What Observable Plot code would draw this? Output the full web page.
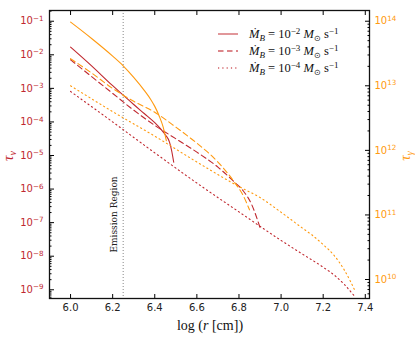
<!DOCTYPE html>
<html><head><meta charset="utf-8">
<script src="https://cdn.jsdelivr.net/npm/d3@7"></script>
<script src="https://cdn.jsdelivr.net/npm/@observablehq/plot@0.6"></script>
<style>
body{margin:0;background:white;}
#wrap{position:relative;width:415px;height:340px;}
#wrap svg{position:absolute;left:0;top:0;}
</style></head>
<body><div id="wrap"></div>
<script>
// ---- data (log10 r in cm) ----
const redSolidR = [6.0, 6.1, 6.2, 6.25, 6.3, 6.35, 6.4, 6.43, 6.45, 6.47, 6.48, 6.49];
const redSolidTau = [1.70e-2, 4.68e-3, 1.20e-3, 6.3e-4, 3.31e-4, 1.78e-4, 9.5e-5, 6.0e-5, 4.17e-5, 2.5e-5, 1.41e-5, 6.3e-6];
const redDashR = [6.0, 6.1, 6.2, 6.3, 6.4, 6.5, 6.6, 6.7, 6.78, 6.82, 6.86, 6.9];
const redDashTau = [7.1e-3, 2.24e-3, 7.1e-4, 2.24e-4, 7.9e-5, 3.16e-5, 1.26e-5, 4.5e-6, 1.58e-6, 8.9e-7, 3.5e-7, 7.1e-8];
const redDotR = [6.0, 6.2, 6.4, 6.6, 6.8, 7.0, 7.1, 7.2, 7.26, 7.3, 7.35];
const redDotTau = [8.1e-4, 1.0e-4, 1.2e-5, 1.51e-6, 2.09e-7, 2.95e-8, 1.17e-8, 4.7e-9, 2.5e-9, 1.45e-9, 6.3e-10];

const orSolidR = [6.0, 6.1, 6.2, 6.25, 6.3, 6.35, 6.38, 6.4, 6.42, 6.44, 6.455];
const orSolidTau = [9.7e13, 5.4e13, 2.88e13, 2.04e13, 1.35e13, 8.5e12, 6.2e12, 4.8e12, 3.47e12, 2.29e12, 1.41e12];
const orDashR = [6.0, 6.1, 6.2, 6.3, 6.4, 6.5, 6.6, 6.7, 6.78, 6.82, 6.85];
const orDashTau = [2.63e13, 1.58e13, 9.1e12, 5.75e12, 3.89e12, 2.29e12, 1.29e12, 6.6e11, 3.16e11, 2.0e11, 1.2e11];
const orDotR = [6.0, 6.2, 6.4, 6.6, 6.8, 6.9, 7.0, 7.1, 7.15, 7.2, 7.25, 7.3, 7.33, 7.35];
const orDotTau = [1.0e13, 3.98e12, 1.66e12, 6.6e11, 2.75e11, 1.86e11, 1.1e11, 6.3e10, 4.8e10, 3.47e10, 2.4e10, 1.41e10, 9.3e9, 6.8e9];

const emissionR = [6.25];
const xTicks = [6.0, 6.2, 6.4, 6.6, 6.8, 7.0, 7.2, 7.4];
const leftMajor = [-9, -8, -7, -6, -5, -4, -3, -2, -1];
const rightMajor = [10, 11, 12, 13, 14];
const legendLabels = ["−2", "−3", "−4"];

// ---- style ----
const RED = "#c0282f", ORANGE = "#ff9a10";
const W = 415, H = 340, mL = 49, mR = 46, mT = 10, mB = 42;
const xDomain = [5.9, 7.42];
const yLeft = [10 ** -9.26, 10 ** -0.68];
const yRight = [10 ** 9.706, 10 ** 14.166];

const minors = (exps) => exps.flatMap(k => [2,3,4,5,6,7,8,9].map(m => m * 10 ** k));
const pts = (R, T) => R.map((r, i) => ({r, t: T[i]}));
const fmtPow = d => "10^" + String(Math.round(Math.log10(d))).replace("-", "−");

const common = {width: W, height: H, marginLeft: mL, marginRight: mR, marginTop: mT, marginBottom: mB};
const DOT = "1.2,3.1", DASH = "5.5,3.5";

const plotA = Plot.plot({
  ...common,
  style: {background: "white", fontFamily: "DejaVu Sans", fontSize: "10px"},
  x: {domain: xDomain, label: null},
  y: {type: "log", domain: yLeft, label: null},
  marks: [
    Plot.ruleX(emissionR, {x: d => d, stroke: "#888", strokeWidth: 1, strokeDasharray: "1,2"}),
    Plot.text(["Emission Region"], {x: emissionR, frameAnchor: "bottom", dy: -46, dx: -6, rotate: -90, textAnchor: "start", fontFamily: "DejaVu Serif", fontSize: 9, fill: "#222"}),
    Plot.line(pts(redDotR, redDotTau), {x: "r", y: "t", stroke: RED, strokeWidth: 1.1, strokeDasharray: DOT, curve: "monotone-x"}),
    Plot.line(pts(redDashR, redDashTau), {x: "r", y: "t", stroke: RED, strokeWidth: 1.1, strokeDasharray: DASH, curve: "monotone-x"}),
    Plot.line(pts(redSolidR, redSolidTau), {x: "r", y: "t", stroke: RED, strokeWidth: 1.1, curve: "monotone-x"}),
    Plot.axisX({anchor: "bottom", ticks: xTicks, tickSize: -4, tickPadding: 9, tickFormat: d3.format(".1f"), label: null, fill: "#222"}),
    Plot.axisX({anchor: "top", ticks: xTicks, tickSize: -4, tickFormat: () => "", label: null}),
    Plot.axisY({anchor: "left", ticks: leftMajor.map(k => 10 ** k), tickSize: -5, tickFormat: () => "", label: null}),
    Plot.axisY({anchor: "left", ticks: minors([-10,-9,-8,-7,-6,-5,-4,-3,-2,-1]).filter(v => v > yLeft[0] && v < yLeft[1]), tickSize: -2.5, tickFormat: () => "", label: null}),
    Plot.axisY({anchor: "left", ticks: leftMajor.map(k => 10 ** k), tickSize: 0, tickPadding: 6, tickFormat: fmtPow, label: null, fill: RED}),
    Plot.frame({stroke: "#111", strokeWidth: 1.3})
  ]
});

const plotB = Plot.plot({
  ...common,
  style: {background: "transparent", fontFamily: "DejaVu Sans", fontSize: "10px"},
  x: {domain: xDomain, axis: null},
  y: {type: "log", domain: yRight, label: null},
  marks: [
    Plot.line(pts(orDotR, orDotTau), {x: "r", y: "t", stroke: ORANGE, strokeWidth: 1.1, strokeDasharray: DOT, curve: "monotone-x"}),
    Plot.line(pts(orDashR, orDashTau), {x: "r", y: "t", stroke: ORANGE, strokeWidth: 1.1, strokeDasharray: DASH, curve: "monotone-x"}),
    Plot.line(pts(orSolidR, orSolidTau), {x: "r", y: "t", stroke: ORANGE, strokeWidth: 1.1, curve: "monotone-x"}),
    Plot.axisY({anchor: "right", ticks: rightMajor.map(k => 10 ** k), tickSize: -5, tickFormat: () => "", label: null}),
    Plot.axisY({anchor: "right", ticks: minors([9,10,11,12,13,14]).filter(v => v > yRight[0] && v < yRight[1]), tickSize: -2.5, tickFormat: () => "", label: null}),
    Plot.axisY({anchor: "right", ticks: rightMajor.map(k => 10 ** k), tickSize: 0, tickPadding: 5, tickFormat: fmtPow, label: null, fill: ORANGE})
  ]
});

const wrap = document.getElementById("wrap");
wrap.appendChild(plotA);
wrap.appendChild(plotB);

// superscripts on tick labels
for (const svg of [plotA, plotB]) {
  d3.select(svg).selectAll('g[aria-label="y-axis tick label"] text').each(function() {
    const t = d3.select(this); const s = t.text();
    if (!s.includes("^")) return;
    const [b, e] = s.split("^");
    t.text(b);
    t.append("tspan").attr("dy", "-0.5em").attr("font-size", "0.72em").text(e);
  });
}

// axis titles
const sA = d3.select(plotA);
const serif = "Liberation Serif";
const xl = sA.append("text").attr("x", 210).attr("y", 330).attr("text-anchor", "middle")
  .attr("font-family", serif).attr("font-size", 14).attr("fill", "#111");
xl.append("tspan").text("log (");
xl.append("tspan").attr("font-style", "italic").text("r");
xl.append("tspan").text(" [cm])");

const yl = sA.append("text").attr("transform", "translate(13,156) rotate(-90)").attr("text-anchor", "middle")
  .attr("font-family", serif).attr("font-size", 15).attr("fill", RED);
yl.append("tspan").attr("font-style", "italic").text("τ");
yl.append("tspan").attr("font-style", "italic").attr("font-size", 10).attr("dy", 3).text("ν");

const sB = d3.select(plotB);
const yr = sB.append("text").attr("transform", "translate(410,156) rotate(-90)").attr("text-anchor", "middle")
  .attr("font-family", serif).attr("font-size", 15).attr("fill", ORANGE);
yr.append("tspan").attr("font-style", "italic").text("τ");
yr.append("tspan").attr("font-style", "italic").attr("font-size", 10).attr("dy", 3).text("γ");

// legend
const dashes = [null, DASH, DOT];
legendLabels.forEach((e, i) => {
  const y = 34 + i * 17;
  sB.append("line").attr("x1", 218).attr("x2", 238).attr("y1", y).attr("y2", y)
    .attr("stroke", RED).attr("stroke-opacity", 0.75).attr("stroke-width", 1.3)
    .attr("stroke-dasharray", dashes[i]);
  const t = sB.append("text").attr("x", 249).attr("y", y + 4).attr("text-anchor", "start")
    .attr("font-family", serif).attr("font-size", 12.5).attr("fill", "#111");
  t.append("tspan").attr("font-style", "italic").text("Ṁ");
  t.append("tspan").attr("font-style", "italic").attr("font-size", 9).attr("dy", 2.5).text("B");
  t.append("tspan").attr("dy", -2.5).text(" = 10");
  t.append("tspan").attr("font-size", 9).attr("dy", -4.5).text(e);
  t.append("tspan").attr("font-style", "italic").attr("dy", 4.5).text(" M");
  t.append("tspan").attr("font-size", 8).attr("dy", 2.5).text("⊙");
  t.append("tspan").attr("dy", -2.5).text(" s");
  t.append("tspan").attr("font-size", 9).attr("dy", -4.5).text("−1");
});
</script></body></html>
